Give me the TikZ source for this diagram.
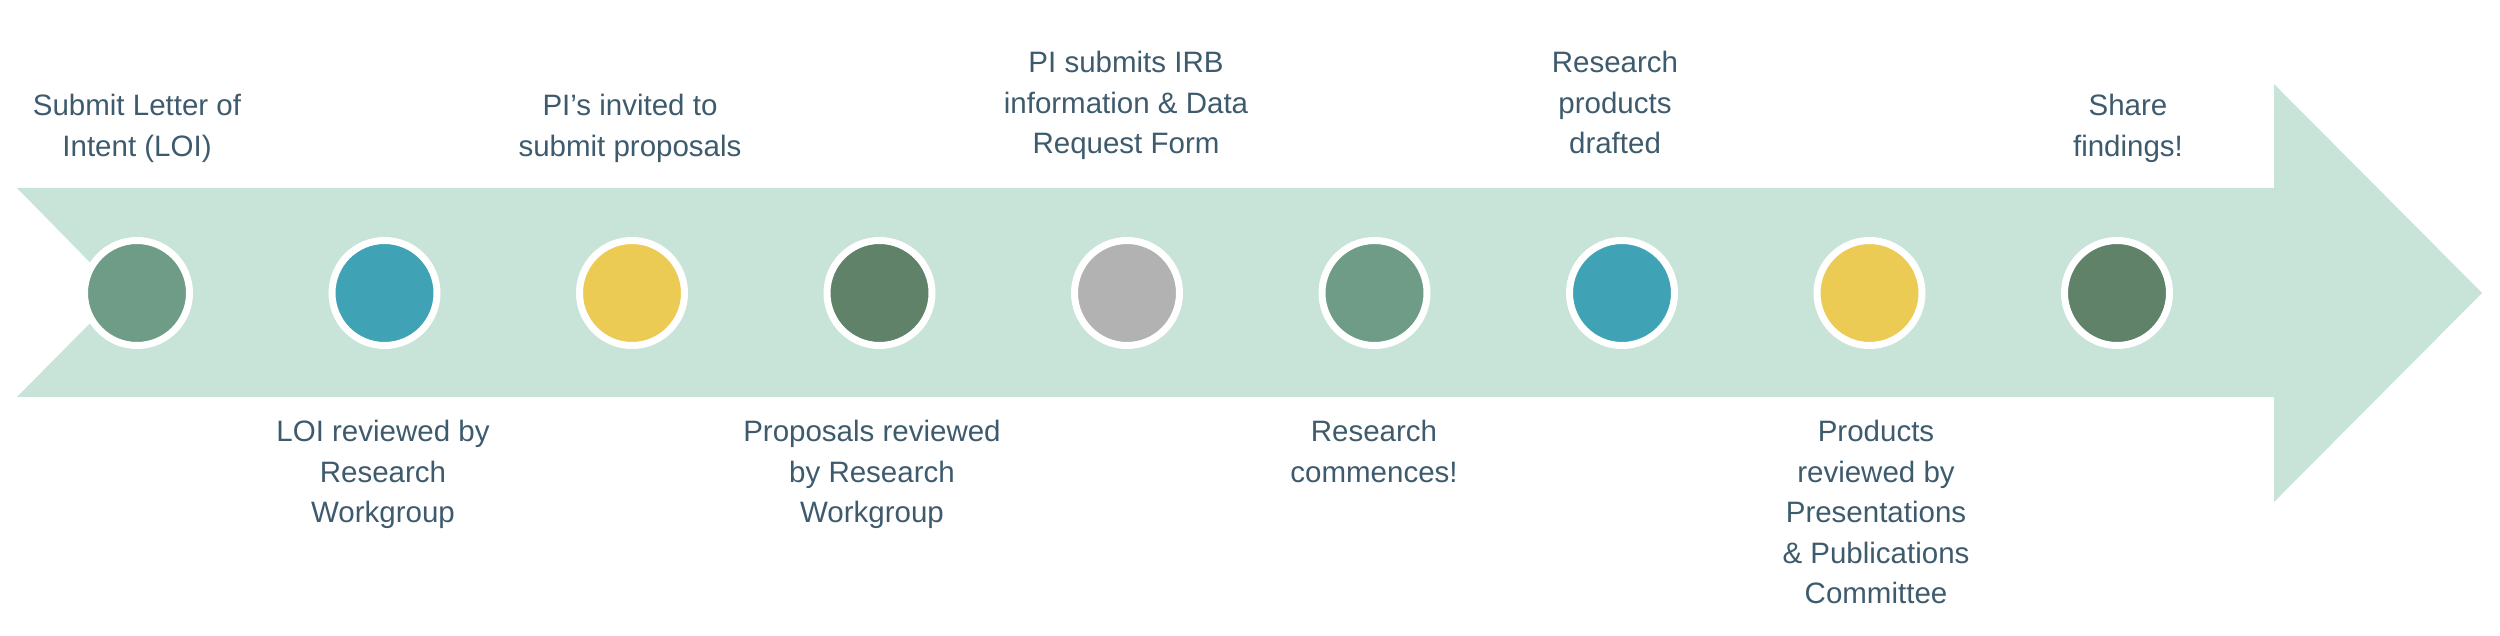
\documentclass[tikz,border=0pt]{standalone}
\usepackage{fontspec}
\setmainfont{Liberation Sans}
\definecolor{band}{HTML}{C8E3D8}
\definecolor{sage}{HTML}{6F9C87}
\definecolor{teal}{HTML}{3FA3B5}
\definecolor{mustard}{HTML}{ECCB55}
\definecolor{forest}{HTML}{5F8268}
\definecolor{stone}{HTML}{B2B2B2}
\definecolor{ink}{HTML}{3E5B6E}
\tikzset{
  dot/.style={circle,draw=white,line width=7pt,minimum size=105pt,inner sep=0pt},
  lbl/.style={anchor=north,align=center,inner sep=0pt,text=ink,font=\fontsize{29.5}{40.5}\selectfont}
}

\begin{document}
\begin{tikzpicture}[x=1pt,y=-1pt]
    \useasboundingbox (0,0) rectangle (2500,636);
    % Arrow
    \fill[band] (17,188) -- (2274,188) -- (2274,84) -- (2482,293) -- (2274,502)
        -- (2274,397) -- (17,397) -- (120,293) -- cycle;
    % Milestones
    \node[dot,fill=sage] (loi) at (137,293) {};
    \node[dot,fill=teal] (loirev) at (384.5,293) {};
    \node[dot,fill=mustard] (invite) at (632,293) {};
    \node[dot,fill=forest] (proprev) at (879.5,293) {};
    \node[dot,fill=stone] (irb) at (1127,293) {};
    \node[dot,fill=sage] (start) at (1374.5,293) {};
    \node[dot,fill=teal] (draft) at (1622,293) {};
    \node[dot,fill=mustard] (prodrev) at (1869.5,293) {};
    \node[dot,fill=forest] (share) at (2117,293) {};
    % Steps above
    \node[lbl] (loitxt) at (137,94) {Submit Letter of\\Intent (LOI)};
    \node[lbl] (invitetxt) at (630,94) {PI’s invited to\\submit proposals};
    \node[lbl] (irbtxt) at (1126,51) {PI submits IRB\\information \& Data\\Request Form};
    \node[lbl] (drafttxt) at (1615,51) {Research\\products\\drafted};
    \node[lbl] (sharetxt) at (2128,94) {Share\\findings!};
    % Steps below
    \node[lbl] (loirevtxt) at (383,420) {LOI reviewed by\\Research\\Workgroup};
    \node[lbl] (proprevtxt) at (872,420) {Proposals reviewed\\by Research\\Workgroup};
    \node[lbl] (starttxt) at (1374,420) {Research\\commences!};
    \node[lbl] (prodrevtxt) at (1876,420) {Products\\reviewed by\\Presentations\\\& Publications\\Committee};
\end{tikzpicture}
\end{document}
